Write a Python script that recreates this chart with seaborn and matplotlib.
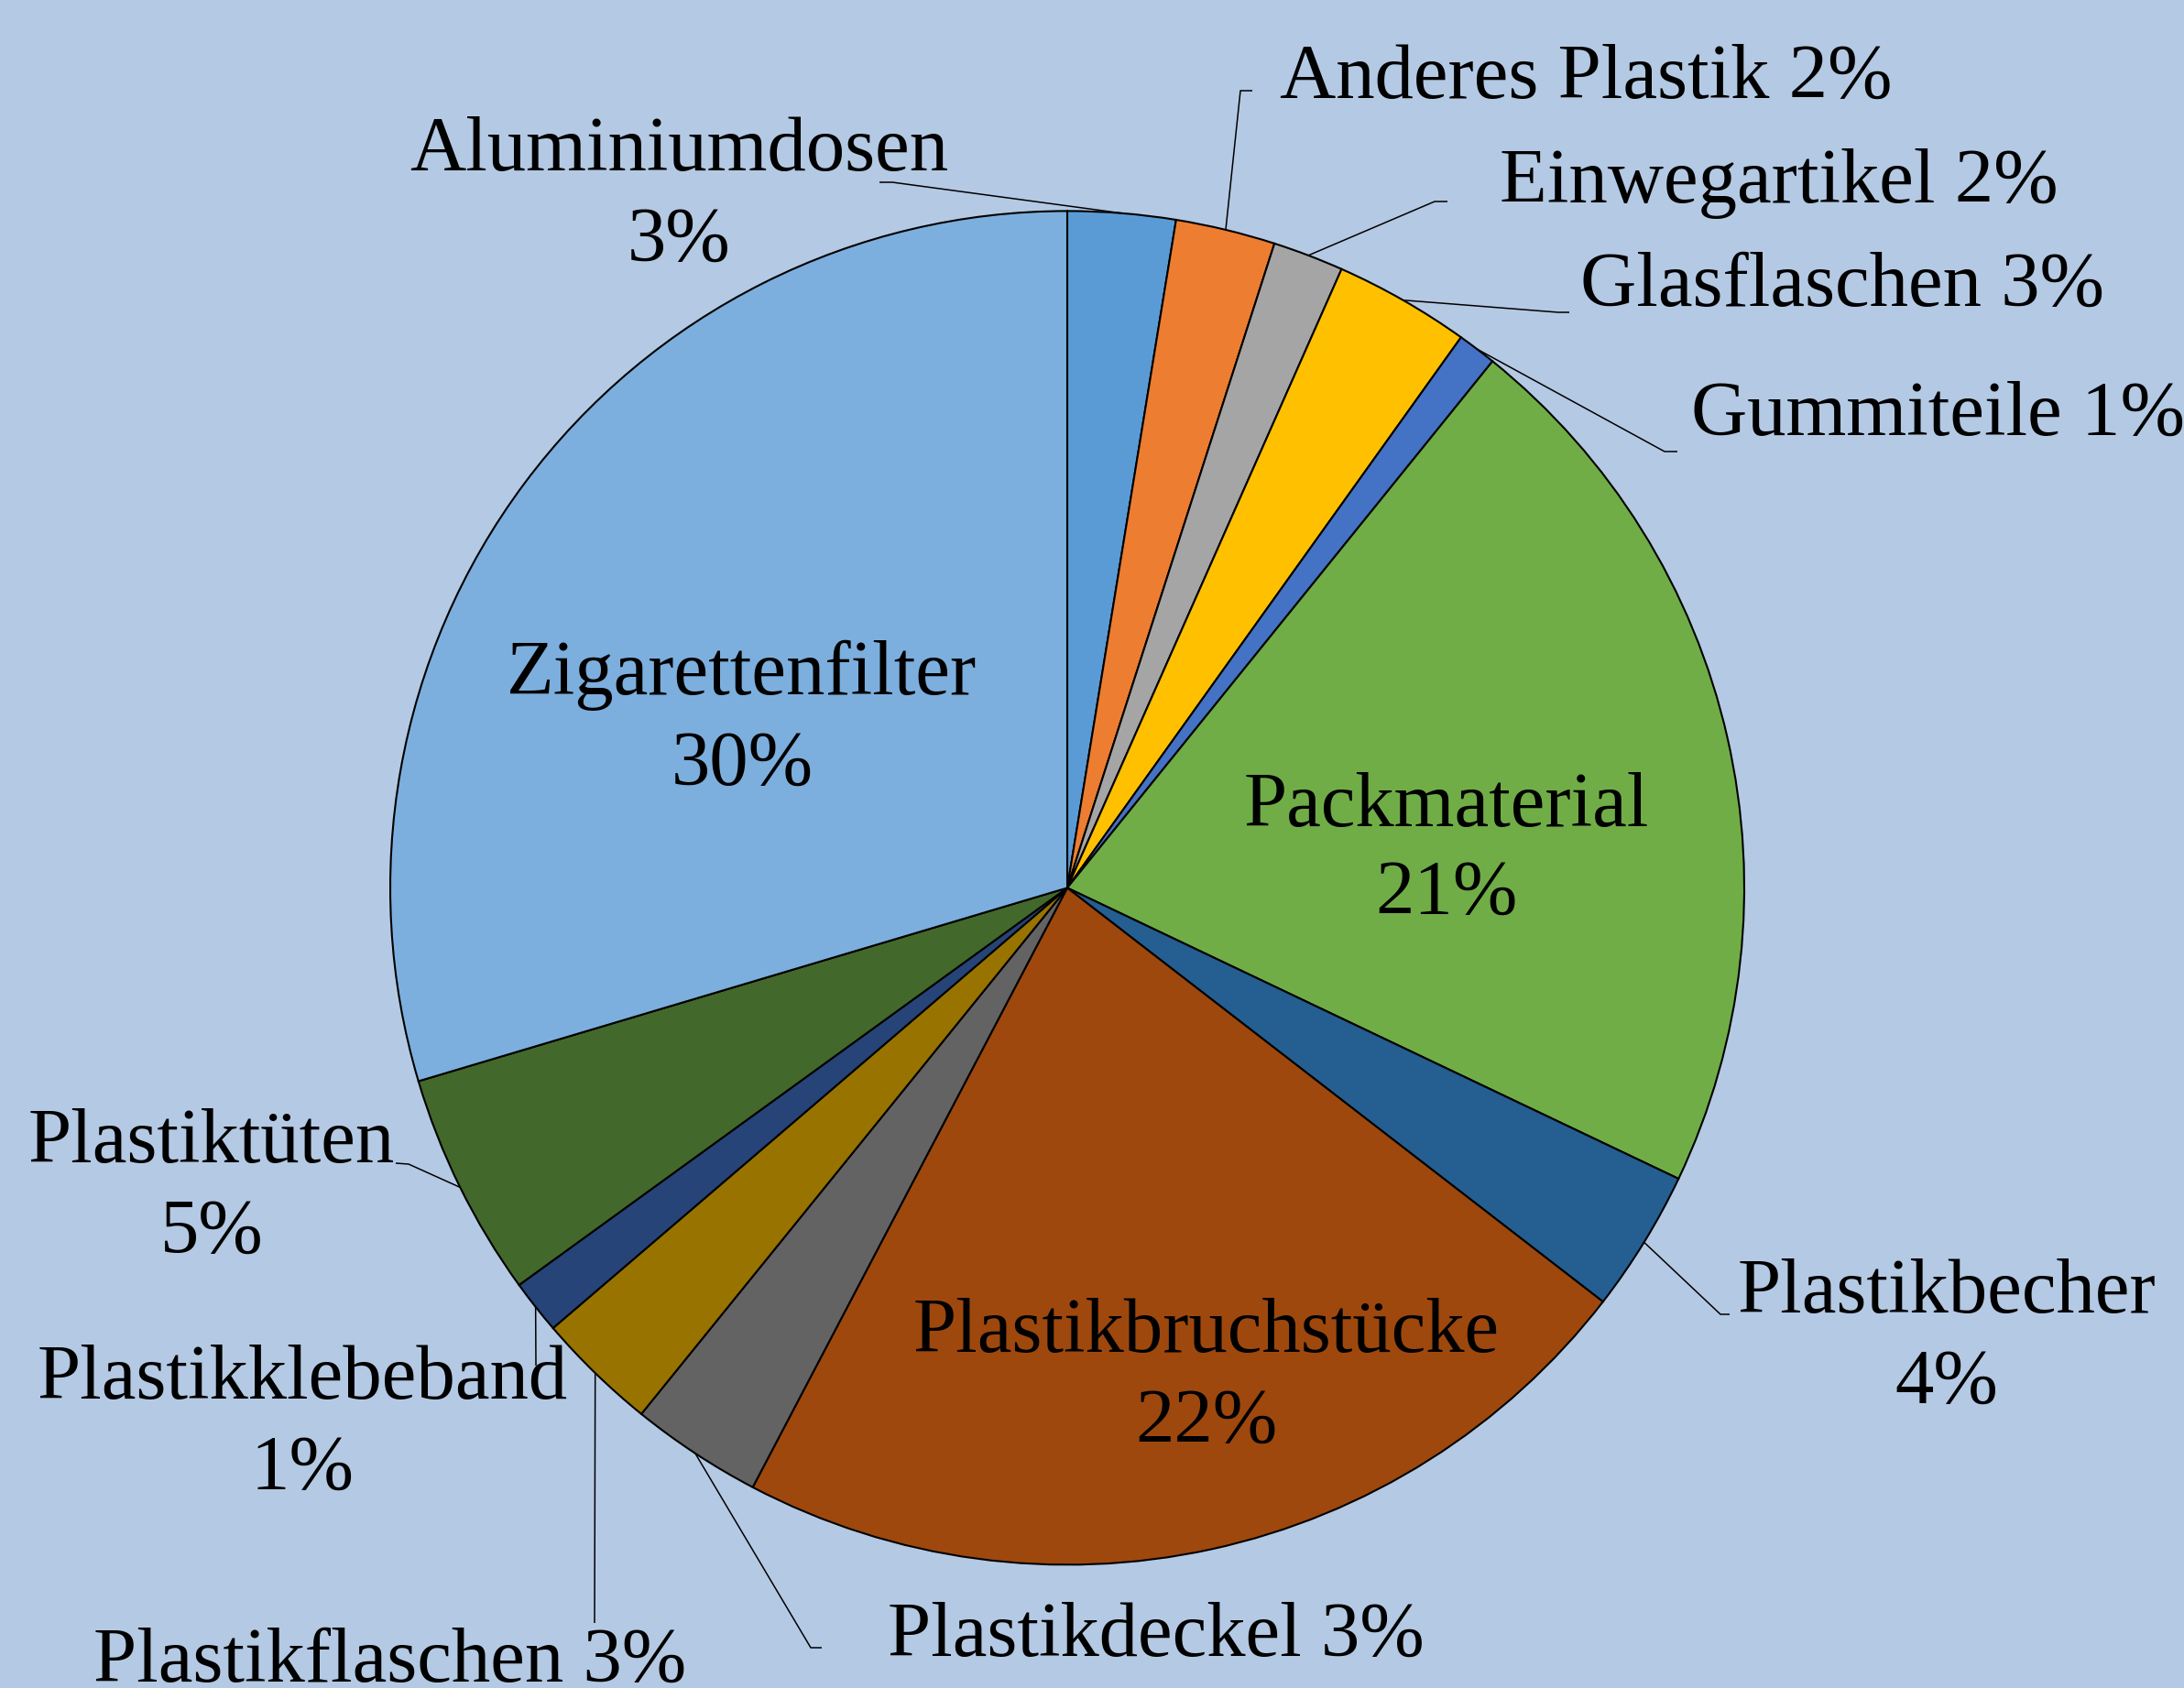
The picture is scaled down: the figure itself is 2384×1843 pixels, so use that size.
import numpy as np
import matplotlib
matplotlib.use("Agg")
import matplotlib.pyplot as plt
import seaborn as sns

# ---- data (clockwise from 12 o'clock) ----
categories = ["Aluminiumdosen", "Anderes Plastik", "Einwegartikel", "Glasflaschen",
              "Gummiteile", "Packmaterial", "Plastikbecher", "Plastikbruchstücke",
              "Plastikdeckel", "Plastikflaschen", "Plastikklebeband", "Plastiktüten",
              "Zigarettenfilter"]
values = [2.57, 2.38, 1.69, 3.24, 0.93, 21.26, 3.40, 22.22, 3.14, 2.90, 1.29, 5.37, 29.61]
shown_pct = ["3%", "2%", "2%", "3%", "1%", "21%", "4%", "22%", "3%", "3%", "1%", "5%", "30%"]
colors = ["#5B9BD5", "#ED7D31", "#A5A5A5", "#FFC000", "#4472C4", "#70AD47", "#255E91",
          "#9E480E", "#636363", "#997300", "#264478", "#43682B", "#7CAFDD"]

BG = "#B4C9E3"
W, H = 2384, 1843
CX, CY, R = 1165.0, 969.4, 739.0

sns.set_theme(style="white")
plt.rcParams["font.family"] = ["Liberation Serif", "DejaVu Serif"]

fig = plt.figure(figsize=(W / 100, H / 100), dpi=100, facecolor=BG)
ax = fig.add_axes([(CX - R) / W, (H - CY - R) / H, 2 * R / W, 2 * R / H])
ax.set_facecolor(BG)

wedges, _ = ax.pie(values, colors=colors, startangle=90, counterclock=False, radius=1.0,
                   wedgeprops=dict(edgecolor="black", linewidth=1.5))
ax.set_xlim(-1, 1)
ax.set_ylim(-1, 1)
ax.set_aspect("equal")
ax.axis("off")


def d(px, py):
    """pixel position of the reference -> data coordinates"""
    return (px - CX) / R, (CY - py) / R


FS = 61

# label layout: (lines, anchor x, baselines, ha, leader path in pixels or None)
layout = {
    "Aluminiumdosen": (741, [186, 285], "center", [(974, 199), (960, 199)]),
    "Anderes Plastik": (1397, [107], "left", [(1354, 99), (1367, 99)]),
    "Einwegartikel": (1637, [221], "left", [(1566, 220), (1580, 220)]),
    "Glasflaschen": (1725, [334], "left", [(1701, 341), (1713, 341)]),
    "Gummiteile": (1846, [475], "left", [(1817, 493), (1831, 493)]),
    "Packmaterial": (1579, [902, 998], "center", None),
    "Plastikbecher": (2125, [1433, 1532], "center", [(1878, 1435), (1888, 1435)]),
    "Plastikbruchstücke": (1317, [1476, 1575], "center", None),
    "Plastikdeckel": (969, [1808], "left", [(885, 1799), (897, 1799)]),
    "Plastikflaschen": (102, [1836], "left", [(649, 1772)]),
    "Plastikklebeband": (330, [1527, 1626], "center", [(585, 1491)]),
    "Plastiktüten": (231, [1269, 1368], "center", [(446, 1271), (432, 1270)]),
    "Zigarettenfilter": (810, [758, 857], "center", None),
}

for w, cat, pct in zip(wedges, categories, shown_pct):
    x0, baselines, ha, leader = layout[cat]
    if len(baselines) == 2:
        lines = [cat, pct]
    else:
        lines = [f"{cat} {pct}"]
    for txt, by in zip(lines, baselines):
        tx, ty = d(x0, by)
        ax.text(tx, ty, txt, ha=ha, va="baseline", fontsize=FS, color="black",
                clip_on=False)
    if leader:
        mid = np.deg2rad((w.theta1 + w.theta2) / 2)
        pts = [(np.cos(mid), np.sin(mid))] + [d(px, py) for px, py in leader]
        xs, ys = zip(*pts)
        ax.plot(xs, ys, color="black", linewidth=1.1, clip_on=False,
                solid_capstyle="butt")

fig.savefig("out.png", dpi=100, facecolor=BG)
